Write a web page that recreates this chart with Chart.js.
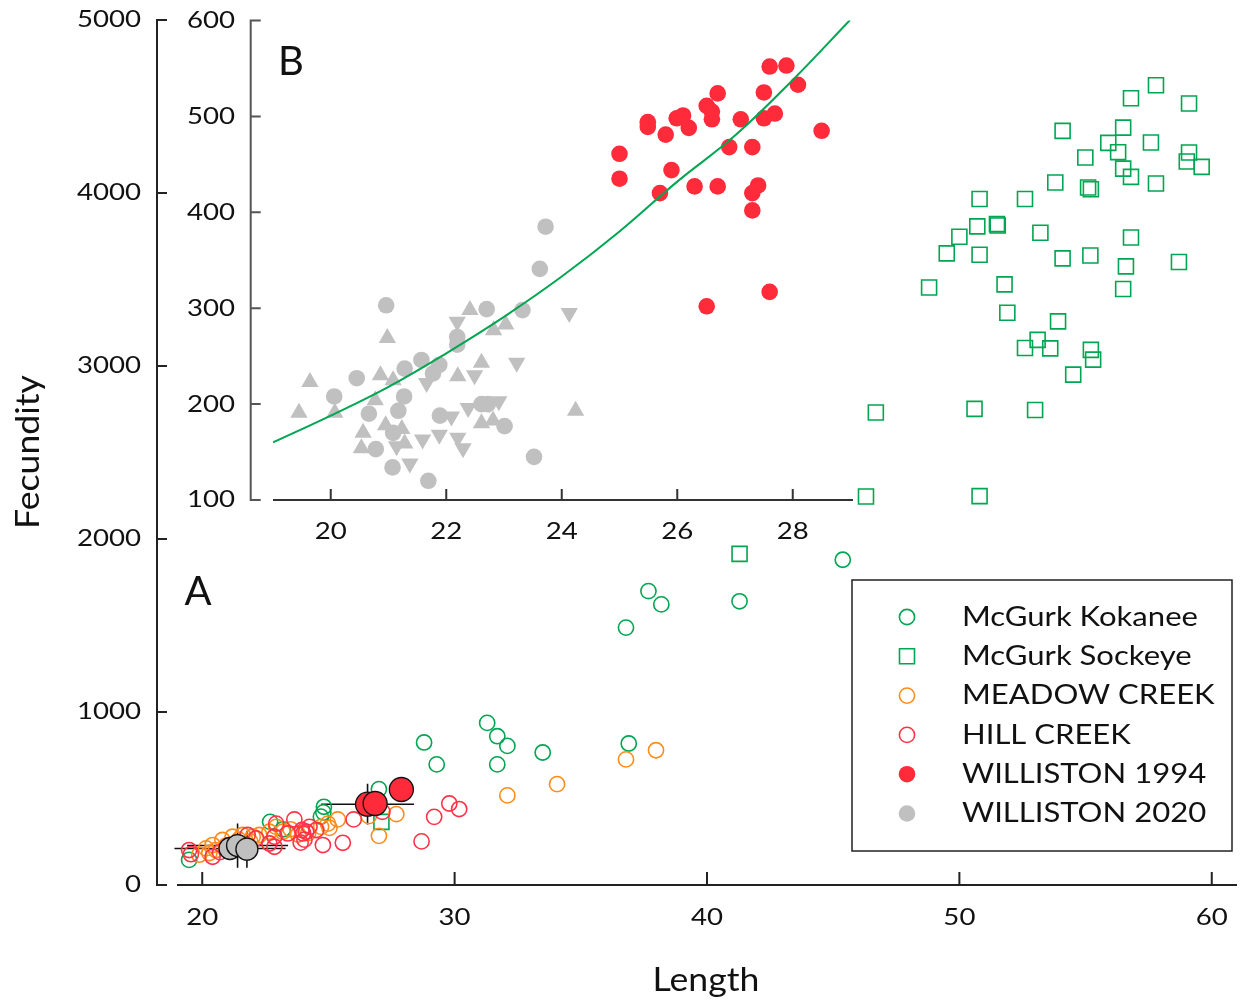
<!DOCTYPE html>
<html><head><meta charset="utf-8">
<script src="https://cdn.jsdelivr.net/npm/chart.js@4.4.1/dist/chart.umd.min.js"></script>
<style>
html,body{margin:0;padding:0;background:#fff;overflow:hidden}
#wrap{position:relative;width:1241px;height:1001px;background:#fff}
#main{position:absolute;left:0;top:0}
#inset{position:absolute;left:150px;top:0}
</style></head><body>
<div id="wrap"><canvas id="main" width="1241" height="1001"></canvas><canvas id="inset" width="720" height="545"></canvas></div>
<script>
// ---------- data (Length, Fecundity) ----------
const seriesLabels = ['McGurk Kokanee','McGurk Sockeye','MEADOW CREEK','HILL CREEK','WILLISTON 1994','WILLISTON 2020'];
const mainXTicks = [20,30,40,50,60];
const mainYTicks = [0,1000,2000,3000,4000,5000];
const insetXTicks = [20,22,24,26,28];
const insetYTicks = [100,200,300,400,500,600];

const kokanee = [[19.48,145],[22.69,365],[23.2,322],[24.7,395],[24.8,420],[24.82,452],[27.0,554],[28.79,824],[29.29,697],[31.29,937],[31.69,860],[31.69,697],[32.09,804],[33.49,766],[36.79,1488],[36.9,818],[37.68,1699],[38.19,1622],[41.29,1640],[45.38,1880]];
const sockeye = [[57.79,4623],[56.80,4548],[59.10,4517],[54.09,4359],[56.49,4378],[55.90,4290],[57.59,4292],[56.29,4236],[59.10,4234],[59.01,4182],[59.60,4151],[54.99,4205],[56.49,4141],[56.80,4093],[57.79,4055],[53.80,4061],[55.10,4032],[55.21,4022],[50.80,3965],[52.60,3965],[50.71,3807],[51.49,3820],[51.52,3812],[50.00,3747],[53.21,3770],[56.80,3743],[49.50,3651],[50.80,3643],[54.09,3622],[55.19,3639],[56.60,3576],[58.70,3601],[48.80,3454],[51.79,3472],[56.49,3445],[51.90,3308],[53.91,3258],[53.10,3151],[52.60,3104],[53.60,3102],[55.21,3093],[55.30,3037],[54.51,2950],[46.69,2731],[50.60,2752],[53.00,2746],[46.30,2246],[50.80,2248],[41.29,1914],[27.10,365]];
const meadow = [[19.88,175],[20.15,212],[20.28,185],[20.41,231],[20.54,202],[20.8,260],[20.95,228],[21.2,279],[21.45,262],[21.6,289],[21.9,252],[22.0,279],[22.26,289],[22.66,308],[22.93,336],[23.19,308],[23.5,322],[23.8,292],[24.2,300],[24.71,336],[24.98,355],[25.04,330],[25.37,379],[26.6,398],[27.0,284],[27.69,410],[32.09,518],[34.06,583],[36.79,726],[37.98,779]];
const hill = [[19.48,202],[19.55,178],[20.41,163],[20.7,190],[21.0,212],[21.34,240],[21.8,289],[22.13,269],[22.66,240],[22.86,279],[22.86,221],[22.93,355],[23.39,298],[23.65,379],[23.95,318],[24.0,298],[24.05,262],[23.9,245],[24.12,308],[24.25,336],[24.52,318],[24.78,231],[25.57,244],[26.0,379],[27.14,423],[28.69,252],[29.19,394],[29.79,471],[30.18,439]];
const will1994 = [[26.55,467],[26.85,471],[27.89,552]];
const will1994ErrL = [1.84,0,0];
const will1994ErrF = [118,0,0];
const will2020 = [[21.1,211],[21.4,228],[21.77,207]];
const will2020ErrL = [2.2,2.0,0];
const will2020ErrF = [55,128,107];

// inset B
const inset1994 = [[25.00,461],[25.00,435],[25.49,494],[25.49,489],[25.80,481],[25.90,444],[25.70,420],[25.99,498],[26.10,501],[26.20,488],[26.51,511],[26.60,505],[26.60,497],[26.70,524],[26.30,427],[26.70,427],[26.90,468],[27.10,497],[27.30,468],[27.30,420],[27.40,428],[27.30,402],[27.50,525],[27.50,498],[27.60,552],[27.69,503],[27.89,553],[28.09,533],[28.50,485],[27.60,317],[26.51,302]];
const inset2020Circ = [[23.62,341],[20.96,303],[22.70,299],[23.32,298],[22.19,270],[22.19,262],[21.57,246],[21.28,237],[20.45,227],[21.88,241],[21.77,232],[20.06,208],[21.27,208],[21.17,193],[20.66,190],[21.89,188],[22.61,200],[22.72,200],[23.01,177],[21.08,170],[20.78,153],[21.07,134],[21.69,120],[23.52,145],[23.72,385]];
const inset2020Up = [[19.64,223],[19.45,191],[20.07,191],[20.98,269],[20.86,230],[21.08,225],[20.77,204],[20.56,170],[20.53,154],[20.95,178],[21.23,174],[21.28,159],[22.41,298],[22.20,229],[22.61,243],[22.82,277],[23.03,283],[22.61,180],[22.81,183],[24.24,193]];
const inset2020Down = [[22.19,286],[24.13,295],[23.22,243],[22.49,230],[21.66,222],[22.09,187],[22.38,196],[22.91,203],[22.75,201],[21.88,168],[21.59,163],[22.20,165],[22.29,154],[21.37,138],[21.14,156]];
const curveL = [19,20,21,22,23,24,25,26,27,28,29];
const curveF = [160,188,218,253,291,333,380,432,480,538,601];

// ---------- styles ----------
const FONT = 'Lato, "Open Sans", sans-serif';
const GREEN = '#00a651', ORANGE = '#ff8c1a', HILL = '#ff3347', RED = '#ff2b3b', GRAY = '#c0c0c0';
const pts = a => a.map(([x, y]) => ({x, y}));

function txt(ctx, s, x, y, size, align, sx, rot) {
  ctx.save();
  ctx.translate(x, y);
  if (rot) ctx.rotate(rot);
  ctx.scale(sx, 1);
  ctx.font = size + 'px ' + FONT;
  ctx.textAlign = align;
  ctx.textBaseline = 'middle';
  ctx.fillStyle = '#111';
  ctx.fillText(s, 0, 0);
  ctx.restore();
}

function makeAxes(o) {
  return { id: o.id, afterDraw(chart) {
    const ctx = chart.ctx, xs = chart.scales.x, ys = chart.scales.y, ca = chart.chartArea;
    ctx.save();
    ctx.lineWidth = o.lw;
    ctx.strokeStyle = o.yColor;
    const ax = ca.left - o.yGap;
    const yTop = ys.getPixelForValue(o.yTicks[o.yTicks.length - 1]);
    const yBot = ys.getPixelForValue(o.yTicks[0]);
    ctx.beginPath();
    ctx.moveTo(ax, yTop - o.lw / 2); ctx.lineTo(ax, yBot + o.lw / 2);
    o.yTicks.forEach(v => { const y = ys.getPixelForValue(v); ctx.moveTo(ax, y); ctx.lineTo(ax + o.tick, y); });
    ctx.stroke();
    ctx.strokeStyle = o.xColor;
    ctx.beginPath();
    const ay = ca.bottom;
    ctx.moveTo(ca.left, ay); ctx.lineTo(ca.right + o.xExtra, ay);
    o.xTicks.forEach(v => { const x = xs.getPixelForValue(v); ctx.moveTo(x, ay); ctx.lineTo(x, ay - o.xTick); });
    ctx.stroke();
    o.yTicks.forEach(v => txt(ctx, String(v), ax - o.yLabelGap, ys.getPixelForValue(v), o.font, 'right', o.sx));
    o.xTicks.forEach(v => txt(ctx, String(v), xs.getPixelForValue(v), ay + o.xLabelGap, o.font, 'center', o.sx));
    ctx.restore();
  }};
}

const errorBars = { id: 'errorBars', beforeDatasetsDraw(chart) {
  const ctx = chart.ctx, xs = chart.scales.x, ys = chart.scales.y;
  ctx.save();
  ctx.strokeStyle = '#111'; ctx.lineWidth = 1.6;
  const sets = [[will1994, will1994ErrL, will1994ErrF], [will2020, will2020ErrL, will2020ErrF]];
  ctx.beginPath();
  sets.forEach(([d, eL, eF]) => d.forEach(([L, F], i) => {
    if (eL[i]) { const y = ys.getPixelForValue(F); ctx.moveTo(xs.getPixelForValue(L - eL[i]), y); ctx.lineTo(xs.getPixelForValue(L + eL[i]), y); }
    if (eF[i]) { const x = xs.getPixelForValue(L); ctx.moveTo(x, ys.getPixelForValue(F - eF[i])); ctx.lineTo(x, ys.getPixelForValue(F + eF[i])); }
  }));
  ctx.stroke();
  ctx.restore();
}};

const legendBox = { id: 'legendBox', afterDraw(chart) {
  const ctx = chart.ctx;
  ctx.save();
  ctx.strokeStyle = '#222'; ctx.lineWidth = 1.5;
  ctx.strokeRect(852, 580, 380, 271);
  const marks = [
    {c: GREEN, shape: 'circle', fill: false}, {c: GREEN, shape: 'square', fill: false},
    {c: ORANGE, shape: 'circle', fill: false}, {c: HILL, shape: 'circle', fill: false},
    {c: RED, shape: 'circle', fill: true}, {c: GRAY, shape: 'circle', fill: true}];
  seriesLabels.forEach((lab, i) => {
    const y = 617 + i * 39.3, x = 907;
    const m = marks[i];
    ctx.beginPath();
    if (m.shape === 'square') ctx.rect(x - 7.5, y - 7.5, 15, 15);
    else ctx.arc(x, y, m.fill ? 8.3 : 7.6, 0, Math.PI * 2);
    if (m.fill) { ctx.fillStyle = m.c; ctx.fill(); }
    else { ctx.strokeStyle = m.c; ctx.lineWidth = 1.6; ctx.stroke(); }
    txt(ctx, lab, 962, y, 27, 'left', 1.15);
  });
  txt(ctx, 'A', 198, 592, 40, 'center', 1.0);
  txt(ctx, 'Fecundity', 28, 452, 33, 'center', 1.08, -Math.PI / 2);
  txt(ctx, 'Length', 706, 980, 33, 'center', 1.08);
  ctx.restore();
}};

const insetLabel = { id: 'insetLabel', afterDraw(chart) {
  txt(chart.ctx, 'B', 291 - 150, 62, 40, 'center', 1.0);
}};

const baseOpts = (xmin, xmax, ymin, ymax, pad) => ({
  responsive: false, animation: false, devicePixelRatio: 1,
  layout: { padding: pad, autoPadding: false },
  plugins: { legend: { display: false }, tooltip: { enabled: false } },
  events: [],
  scales: {
    x: { type: 'linear', min: xmin, max: xmax, display: false },
    y: { type: 'linear', min: ymin, max: ymax, display: false }
  }
});

const openC = (label, data, color, order) => ({ label, data: pts(data), pointStyle: 'circle', pointRadius: 7.6, borderColor: color, backgroundColor: 'rgba(0,0,0,0)', borderWidth: 1.6, order });

new Chart(document.getElementById('main'), {
  type: 'scatter',
  data: { datasets: [
    openC(seriesLabels[0], kokanee, GREEN, 6),
    { label: seriesLabels[1], data: pts(sockeye), pointStyle: 'rect', pointRadius: 10.6, borderColor: GREEN, backgroundColor: 'rgba(0,0,0,0)', borderWidth: 1.6, order: 5 },
    openC(seriesLabels[2], meadow, ORANGE, 4),
    openC(seriesLabels[3], hill, HILL, 3),
    { label: seriesLabels[4], data: pts(will1994), pointStyle: 'circle', pointRadius: 12, backgroundColor: RED, borderColor: '#111', borderWidth: 1.3, order: 2 },
    { label: seriesLabels[5], data: pts(will2020), pointStyle: 'circle', pointRadius: 11, backgroundColor: GRAY, borderColor: '#111', borderWidth: 1.3, order: 1 }
  ]},
  options: baseOpts(19, 61, 0, 5000, { left: 177, right: 4, top: 20, bottom: 116 }),
  plugins: [errorBars, legendBox, makeAxes({ id: 'axMain', lw: 2, yColor: '#222', xColor: '#222', yGap: 20, tick: 10, xTick: 13, xExtra: 0,
    yTicks: mainYTicks, xTicks: mainXTicks, yLabelGap: 16, xLabelGap: 33, font: 23, sx: 1.2 })]
});

new Chart(document.getElementById('inset'), {
  type: 'scatter',
  data: { datasets: [
    { label: 'fit', data: curveL.map((x, i) => ({ x, y: curveF[i] })), showLine: true, pointRadius: 0, borderColor: GREEN, borderWidth: 2, tension: 0.4, fill: false, order: 0 },
    { label: seriesLabels[4], data: pts(inset1994), pointStyle: 'circle', pointRadius: 8.3, backgroundColor: RED, borderWidth: 0, order: 2 },
    { label: seriesLabels[5] + ' a', data: pts(inset2020Circ), pointStyle: 'circle', pointRadius: 8.3, backgroundColor: GRAY, borderWidth: 0, order: 3 },
    { label: seriesLabels[5] + ' b', data: pts(inset2020Up), pointStyle: 'triangle', pointRadius: 10, backgroundColor: GRAY, borderWidth: 0, order: 4 },
    { label: seriesLabels[5] + ' c', data: pts(inset2020Down), pointStyle: 'triangle', rotation: 180, pointRadius: 10, backgroundColor: GRAY, borderWidth: 0, order: 4 }
  ]},
  options: baseOpts(19, 29, 100, 600, { left: 123, right: 19.5, top: 20.5, bottom: 45 }),
  plugins: [insetLabel, makeAxes({ id: 'axInset', lw: 2, yColor: '#555', xColor: '#333', yGap: 22.3, tick: 10, xTick: 11, xExtra: 2.5,
    yTicks: insetYTicks, xTicks: insetXTicks, yLabelGap: 15.7, xLabelGap: 32, font: 23, sx: 1.2 })]
});
</script></body></html>
